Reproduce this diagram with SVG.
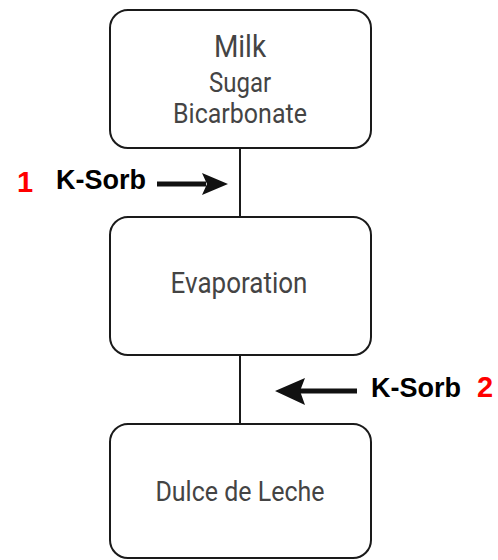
<svg xmlns="http://www.w3.org/2000/svg" width="498" height="560" viewBox="0 0 498 560">
  <style>
    .box { fill: #ffffff; stroke: #1a1a1a; stroke-width: 2; }
    .lbl { font-family: Roboto, "Liberation Sans", sans-serif; fill: #444444; text-anchor: middle; }
    .add { font-family: "Liberation Sans", Arial, sans-serif; font-weight: bold; fill: #000000; font-size: 27px; }
    .num { font-family: "Liberation Sans", Arial, sans-serif; font-weight: bold; fill: #ff0000; font-size: 29px; }
    .link { stroke: #1a1a1a; stroke-width: 2; fill: none; }
    .feed { stroke: #111111; stroke-width: 5; fill: none; }
    .head { fill: #111111; }
  </style>
  <rect width="498" height="560" fill="#ffffff"/>

  <g id="connectors">
    <line class="link" x1="240" y1="148" x2="240" y2="217"/>
    <line class="link" x1="240" y1="355" x2="240" y2="424"/>
  </g>

  <g id="node-ingredients">
    <rect class="box" x="110" y="10" width="261" height="138" rx="18" ry="18"/>
    <text class="lbl" transform="translate(240,57) scale(1,1.12)" font-size="28">Milk</text>
    <text class="lbl" transform="translate(240,92) scale(1,1.12)" font-size="24">Sugar</text>
    <text class="lbl" transform="translate(240,123) scale(1,1.12)" font-size="25">Bicarbonate</text>
  </g>

  <g id="node-evaporation">
    <rect class="box" x="110" y="217" width="261" height="138" rx="18" ry="18"/>
    <text class="lbl" transform="translate(239,293) scale(1,1.12)" font-size="26">Evaporation</text>
  </g>

  <g id="node-dulce">
    <rect class="box" x="110" y="424" width="261" height="134" rx="18" ry="18"/>
    <text class="lbl" transform="translate(240,501) scale(1,1.12)" font-size="25">Dulce de Leche</text>
  </g>

  <g id="addition-1">
    <text class="num" x="17" y="192">1</text>
    <text class="add" x="56" y="189">K-Sorb</text>
    <line class="feed" x1="157" y1="184" x2="206" y2="184"/>
    <polygon class="head" points="228,184 202,173 207,184 202,195"/>
  </g>

  <g id="addition-2">
    <line class="feed" x1="357" y1="391" x2="300" y2="391"/>
    <polygon class="head" points="275,391 305,378 300,391 305,405"/>
    <text class="add" x="371" y="397">K-Sorb</text>
    <text class="num" x="477" y="397">2</text>
  </g>
</svg>
